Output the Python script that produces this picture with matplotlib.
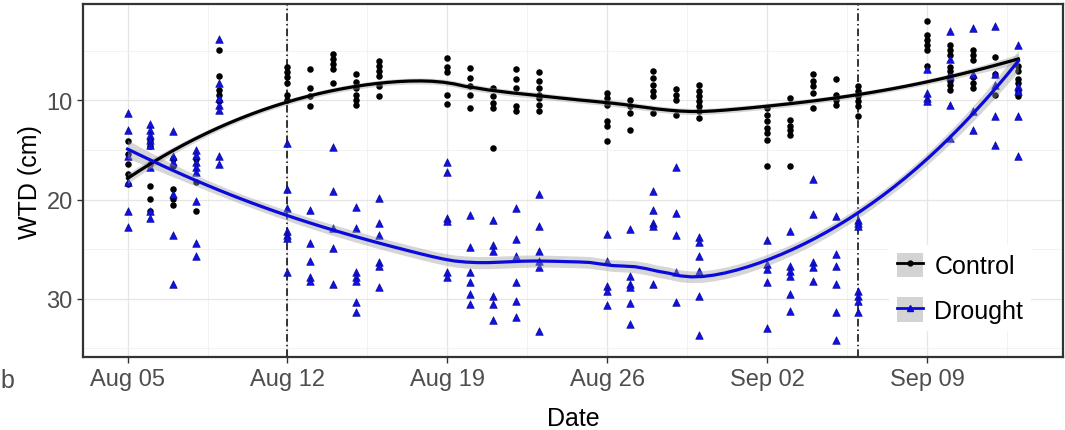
import numpy as np
import matplotlib.pyplot as plt
import matplotlib.dates as mdates
from matplotlib.lines import Line2D
from matplotlib.patches import Patch
from matplotlib.legend_handler import HandlerTuple

plt.rcParams['font.family'] = ['Liberation Sans', 'DejaVu Sans']

# sampling days
dates = ['2019-08-05', '2019-08-06', '2019-08-07', '2019-08-08', '2019-08-09',
         '2019-08-12', '2019-08-13', '2019-08-14', '2019-08-15', '2019-08-16',
         '2019-08-19', '2019-08-20', '2019-08-21', '2019-08-22', '2019-08-23',
         '2019-08-26', '2019-08-27', '2019-08-28', '2019-08-29', '2019-08-30',
         '2019-09-02', '2019-09-03', '2019-09-04', '2019-09-05', '2019-09-06',
         '2019-09-09', '2019-09-10', '2019-09-11', '2019-09-12', '2019-09-13']

# water table depth (cm), one list per day
control_wtd = [
    [14.1, 15.4, 16.4, 17.4, 18.4],
    [14.0, 14.6, 16.4, 18.6, 19.9, 21.2],
    [15.9, 16.6, 18.9, 19.9, 20.6],
    [15.9, 18.2, 21.2],
    [4.9, 7.5, 9.0, 9.5, 10.1],
    [6.6, 7.1, 7.6, 8.3, 9.5, 10.0],
    [6.8, 8.8, 9.6, 10.6],
    [5.3, 5.8, 6.3, 6.8, 8.3],
    [7.3, 8.1, 8.8, 9.5, 10.0, 10.5],
    [6.0, 6.5, 7.0, 7.5, 8.6, 9.6],
    [5.7, 6.6, 7.1, 9.5, 10.4],
    [6.7, 7.7, 8.6, 9.5, 10.8],
    [8.8, 9.6, 10.3, 10.8, 14.8],
    [6.8, 7.8, 8.8, 10.6, 11.1],
    [7.1, 8.0, 8.8, 9.5, 9.8, 10.5, 11.1],
    [9.3, 9.8, 10.5, 12.1, 12.6, 14.1],
    [10.0, 10.6, 11.3, 13.0],
    [7.0, 7.7, 8.5, 9.1, 9.6, 11.3],
    [8.9, 9.5, 10.0, 11.5],
    [8.5, 9.1, 9.6, 10.1, 10.6, 11.1, 11.8],
    [10.8, 11.5, 12.1, 12.8, 13.3, 14.0, 16.6],
    [9.8, 12.0, 12.6, 13.0, 13.5, 16.6],
    [7.3, 8.0, 8.6, 9.3, 10.8],
    [7.8, 9.5, 10.0, 10.5],
    [8.6, 9.1, 9.6, 10.1, 10.6, 11.6],
    [2.0, 3.4, 3.9, 4.4, 4.9, 6.5],
    [4.4, 4.9, 5.4, 6.6, 7.0, 7.5, 8.0, 8.5, 9.0],
    [4.9, 5.4, 5.9, 7.6, 8.3, 8.8],
    [5.6, 7.3, 9.5],
    [6.5, 7.0, 7.8, 8.3, 9.1, 9.6],
]
drought_wtd = [
    [11.3, 13.0, 15.6, 18.2, 21.2, 22.8],
    [12.4, 13.0, 13.5, 14.0, 14.5, 16.7, 21.2, 21.9],
    [13.1, 15.6, 16.2, 19.4, 23.6, 28.5],
    [15.0, 15.5, 16.2, 16.7, 17.2, 20.2, 24.4, 25.7],
    [3.8, 8.3, 9.8, 10.5, 11.0, 15.6, 16.4],
    [14.3, 18.9, 20.9, 23.2, 23.6, 23.9, 27.3],
    [21.1, 24.4, 26.2, 27.8, 28.2],
    [14.7, 19.1, 22.9, 24.9, 28.5],
    [20.8, 22.9, 27.3, 27.8, 28.2, 30.3, 31.3],
    [19.8, 22.4, 23.6, 26.3, 26.7, 28.8],
    [16.2, 17.2, 21.9, 22.2, 27.3, 27.8],
    [21.6, 24.8, 27.3, 28.3, 29.5, 30.5],
    [22.1, 24.6, 25.2, 29.7, 30.5, 32.2],
    [20.9, 24.0, 25.7, 28.3, 30.2, 31.8],
    [19.4, 22.7, 25.2, 26.2, 26.8, 33.3],
    [23.5, 26.2, 28.7, 29.2, 30.6],
    [23.0, 27.7, 28.5, 28.8, 30.4, 32.6],
    [19.1, 21.1, 22.4, 22.7, 28.5],
    [16.7, 21.4, 23.6, 27.3, 30.3],
    [23.8, 24.3, 25.7, 27.2, 29.7, 33.7],
    [24.1, 26.5, 27.0, 28.3, 33.0],
    [23.2, 26.7, 27.2, 27.7, 29.5, 31.2],
    [17.9, 21.5, 26.3, 26.8, 28.2],
    [21.7, 25.5, 26.7, 28.5, 31.3, 34.2],
    [22.1, 22.4, 22.7, 29.2, 29.7, 30.2, 31.3],
    [6.8, 9.3, 9.8, 10.1],
    [3.0, 5.8, 7.5, 10.5, 13.8],
    [2.7, 7.3, 11.1, 13.0],
    [2.5, 7.3, 8.5, 11.6, 14.5],
    [4.4, 8.6, 9.1, 11.6, 15.6],
]
event_dates = ['2019-08-12', '2019-09-06']
tick_dates = ['2019-08-05', '2019-08-12', '2019-08-19', '2019-08-26', '2019-09-02', '2019-09-09']


def to_num(d):
    return mdates.date2num(np.array(d, dtype='datetime64[D]'))


def flatten(day_nums, groups):
    xs = np.concatenate([[d] * len(g) for d, g in zip(day_nums, groups)])
    ys = np.concatenate(groups)
    return xs.astype(float), ys.astype(float)


def loess_rows(x, x_eval, span=0.75):
    """rows of the local quadratic loess smoother matrix"""
    n = len(x)
    q = int(np.floor(span * n))
    rows = []
    for x0 in x_eval:
        d = np.abs(x - x0)
        h = np.sort(d)[q - 1]
        w = np.clip(1 - (d / h) ** 3, 0, None) ** 3
        X = np.column_stack([np.ones(n), x - x0, (x - x0) ** 2])
        XtW = X.T * w
        rows.append(np.linalg.solve(XtW @ X, XtW)[0])
    return np.array(rows)


def smooth(x, y, n_grid=80, z=0.8):
    grid = np.linspace(x.min(), x.max(), n_grid)
    Lg = loess_rows(x, grid)
    Ld = loess_rows(x, x)
    fit = Lg @ y
    resid = y - Ld @ y
    M = np.eye(len(x)) - Ld
    s = np.sqrt(np.sum(resid ** 2) / np.trace(M.T @ M))
    se = s * np.sqrt(np.sum(Lg ** 2, axis=1))
    return grid, fit, fit - z * se, fit + z * se


day_nums = to_num(dates)
xc, yc = flatten(day_nums, control_wtd)
xd, yd = flatten(day_nums, drought_wtd)

fig = plt.figure(figsize=(10.65, 4.31), dpi=100)
ax = fig.add_axes([0.078, 0.169, 0.920, 0.819])

# minor / major grid
major_x = to_num(tick_dates)
ax.set_xticks(major_x)
ax.set_xticks(np.append(major_x - 3.5, major_x[-1] + 3.5), minor=True)
ax.set_yticks([10, 20, 30])
ax.set_yticks([5, 15, 25, 35], minor=True)
ax.xaxis.set_major_formatter(mdates.DateFormatter('%b %d'))
ax.grid(which='major', color='#E6E6E6', lw=0.9, zorder=0)
ax.grid(which='minor', color='#F0F0F0', lw=0.6, zorder=0)
ax.set_axisbelow(True)
ax.tick_params(which='minor', length=0)
ax.tick_params(which='major', labelsize=17, labelcolor='#4D4D4D', color='#333333', length=4, width=1)

for d in to_num(event_dates):
    ax.axvline(d, color='black', lw=1.1, linestyle=(0, (5, 2, 1, 2)), zorder=1)

ax.scatter(xc, yc, s=22, color='black', marker='o', lw=0, zorder=2)
ax.scatter(xd, yd, s=30, color='#1010E0', marker='^', edgecolor='#00008B', lw=0.4, zorder=2)

for x, y, col in [(xc, yc, 'black'), (xd, yd, '#0A0ADC')]:
    g, f, lo, hi = smooth(x, y)
    ax.fill_between(g, lo, hi, color='#999999', alpha=0.4, lw=0, zorder=3)
    ax.plot(g, f, color=col, lw=2.3, zorder=4)

ax.set_xlim(day_nums[0] - 1.95, day_nums[-1] + 1.95)
ax.set_ylim(35.9, 0.3)

for sp in ax.spines.values():
    sp.set_color('#333333')
    sp.set_linewidth(1.6)

ax.set_xlabel('Date', fontsize=18, color='black', labelpad=12)
ax.set_ylabel('WTD (cm)', fontsize=18, color='black', labelpad=3)

key_box = Patch(facecolor='#D3D3D3', edgecolor='none')
h_ctrl = (key_box, Line2D([], [], color='black', lw=2, marker='o', markersize=3.5))
h_drought = (key_box, Line2D([], [], color='#0A0ADC', lw=2, marker='^', markersize=4.5))
leg = ax.legend([h_ctrl, h_drought], ['Control', 'Drought'],
                handler_map={tuple: HandlerTuple(ndivide=1, pad=0)},
                loc='lower right', bbox_to_anchor=(0.98, 0.04), frameon=True,
                fontsize=18, handlelength=1.05, handleheight=1.15,
                labelspacing=0.75, handletextpad=0.45, borderpad=0.3)
leg.get_frame().set_edgecolor('none')
leg.get_frame().set_facecolor('white')
leg.get_frame().set_alpha(1)

# panel letter at the left edge
fig.text(0.0, 0.1, 'b', fontsize=18, color='#4D4D4D', va='baseline')

fig.savefig('out.png', dpi=100)
